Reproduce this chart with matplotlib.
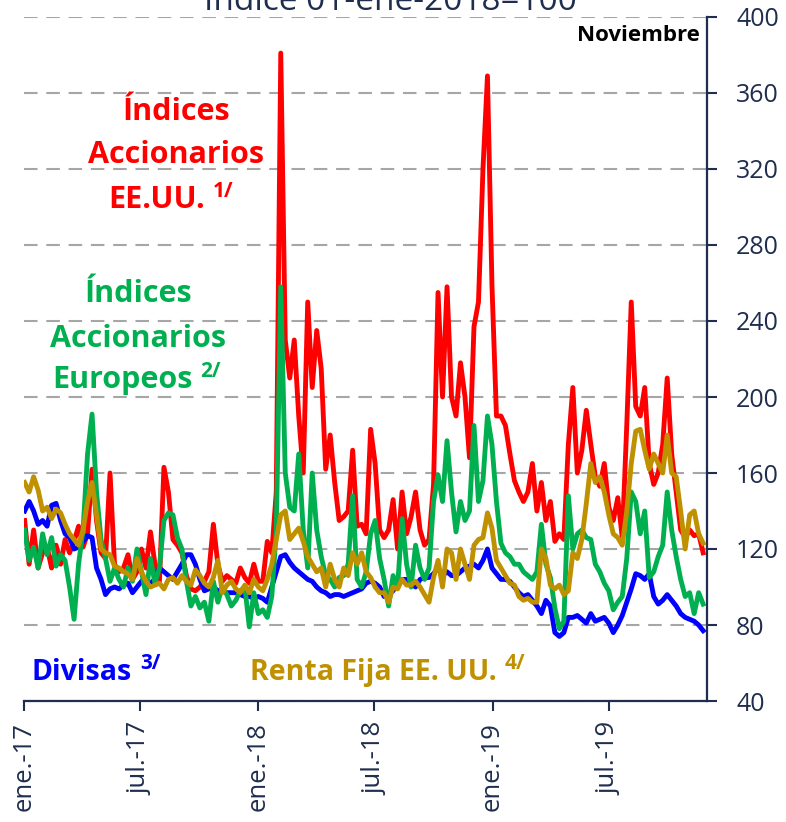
import matplotlib
matplotlib.use("Agg")
import matplotlib.pyplot as plt
import pandas as pd

plt.rcParams['font.family'] = ['Open Sans', 'DejaVu Sans']

# =========================
# DATA (weekly)
# =========================

weeks = pd.date_range('2017-01-02', periods=152, freq='7D')

red_usa = [
    135, 112, 130, 110, 118, 121, 110, 122, 112, 125,
    118, 124, 132, 121, 128, 162, 135, 118, 115, 160,
    112, 108, 110, 117, 104, 108, 120, 110, 129, 112,
    103, 163, 150, 125, 122, 118, 106, 99, 98, 100,
    103, 108, 133, 112, 103, 106, 104, 102, 110, 105,
    102, 112, 103, 103, 124, 118, 150, 381, 230, 210,
    230, 190, 160, 250, 205, 235, 215, 162, 180, 155,
    135, 137, 140, 172, 132, 133, 128, 183, 165, 130,
    126, 130, 146, 120, 150, 128, 137, 150, 130, 122,
    125, 154, 255, 200, 258, 200, 190, 218, 200, 168,
    237, 250, 320, 369, 259, 190, 190, 185, 170, 156,
    150, 145, 150, 165, 140, 155, 135, 145, 124, 128,
    125, 175, 205, 160, 172, 193, 175, 158, 153, 165,
    142, 135, 147, 126, 185, 250, 195, 190, 205, 165,
    154, 160, 175, 210, 170, 150, 130, 126, 130, 127,
    128, 118]

green_eur = [
    130, 114, 121, 110, 128, 117, 126, 111, 117, 114,
    100, 83, 112, 130, 170, 191, 150, 125, 115, 103,
    110, 104, 100, 110, 103, 120, 108, 96, 115, 102,
    110, 135, 139, 138, 126, 120, 103, 90, 95, 89,
    92, 82, 103, 92, 100, 96, 90, 93, 98, 100,
    79, 97, 86, 88, 84, 95, 130, 258, 160, 142,
    140, 170, 130, 110, 160, 130, 116, 106, 104, 100,
    105, 106, 112, 148, 104, 100, 108, 128, 135, 115,
    104, 90, 106, 100, 136, 112, 100, 122, 110, 104,
    110, 145, 159, 145, 177, 150, 129, 145, 135, 140,
    185, 145, 156, 190, 175, 145, 123, 118, 116, 112,
    112, 108, 106, 104, 108, 133, 112, 105, 89, 78,
    82, 148, 120, 128, 130, 126, 125, 112, 108, 102,
    98, 88, 92, 95, 115, 150, 145, 128, 140, 105,
    108, 116, 122, 150, 130, 116, 104, 95, 97, 86,
    97, 91]

gold_bonds = [
    155, 150, 158, 151, 140, 142, 136, 141, 139, 133,
    128, 125, 122, 130, 145, 155, 138, 120, 118, 117,
    111, 110, 108, 107, 104, 115, 108, 103, 100, 101,
    102, 99, 104, 105, 102, 106, 103, 101, 109, 106,
    102, 100, 105, 114, 97, 101, 103, 99, 97, 101,
    97, 104, 100, 98, 104, 112, 125, 138, 140, 125,
    128, 131, 124, 116, 112, 108, 110, 100, 112, 104,
    100, 110, 106, 118, 112, 118, 108, 105, 100, 97,
    97, 92, 100, 99, 104, 101, 101, 103, 100, 96,
    92, 105, 114, 100, 120, 118, 104, 120, 112, 104,
    122, 125, 126, 139, 131, 114, 110, 106, 102, 101,
    95, 93, 94, 92, 92, 120, 115, 101, 99, 101,
    96, 98, 118, 115, 125, 144, 165, 155, 158, 150,
    138, 128, 126, 122, 140, 165, 182, 183, 172, 162,
    170, 165, 160, 180, 160, 158, 140, 120, 138, 140,
    128, 123]

blue_fx = [
    140, 145, 140, 133, 135, 132, 143, 144, 135, 128,
    126, 120, 121, 124, 127, 126, 110, 104, 96, 99,
    100, 99, 101, 102, 97, 100, 103, 103, 102, 104,
    110, 108, 106, 104, 108, 112, 117, 117, 112, 104,
    98, 99, 100, 98, 98, 97, 97, 97, 96, 95,
    95, 94, 95, 94, 92, 100, 108, 116, 117, 113,
    110, 108, 106, 104, 103, 100, 98, 97, 95, 96,
    96, 95, 96, 97, 98, 99, 102, 103, 102, 100,
    95, 96, 98, 102, 104, 104, 102, 100, 104, 105,
    105, 107, 110, 106, 108, 106, 106, 108, 110, 111,
    112, 110, 114, 120, 110, 107, 104, 104, 103, 100,
    97, 95, 96, 93, 90, 86, 93, 90, 76, 74,
    76, 84, 84, 85, 83, 81, 86, 82, 83, 84,
    81, 76, 80, 85, 92, 99, 107, 106, 104, 107,
    95, 91, 93, 96, 93, 90, 86, 84, 83, 82,
    80, 77]

tick_dates = pd.to_datetime(['2017-01-01', '2017-07-01', '2018-01-01',
                             '2018-07-01', '2019-01-01', '2019-07-01'])
tick_labels = ['ene.-17', 'jul.-17', 'ene.-18', 'jul.-18', 'ene.-19', 'jul.-19']
y_ticks = list(range(40, 401, 40))

# =========================
# FIGURE
# =========================

W, H = 786, 822
navy = '#1f2d4e'
c_red, c_green, c_blue, c_gold = '#ff0000', '#00b050', '#0000ff', '#bf9000'

fig = plt.figure(figsize=(W / 100, H / 100), dpi=100)
ax = fig.add_axes([24 / W, (H - 701) / H, (707 - 24) / W, (701 - 17) / H])

ax.plot(weeks, red_usa, color=c_red, lw=3.5, zorder=3)
ax.plot(weeks, blue_fx, color=c_blue, lw=3.5, zorder=4)
ax.plot(weeks, green_eur, color=c_green, lw=3.5, zorder=5)
ax.plot(weeks, gold_bonds, color=c_gold, lw=3.5, zorder=6)

ax.set_xlim(pd.Timestamp('2017-01-01'), pd.Timestamp('2019-12-01'))
ax.set_ylim(40, 400)

ax.set_yticks(y_ticks)
ax.set_xticks(tick_dates)
ax.set_xticklabels(tick_labels, rotation=90)

ax.yaxis.grid(True, linestyle=(0, (6.5, 4.2)), color='#a6a6a6', lw=1.5)
ax.set_axisbelow(True)

for s in ['left', 'top']:
    ax.spines[s].set_visible(False)
for s in ['right', 'bottom']:
    ax.spines[s].set_color(navy)
    ax.spines[s].set_linewidth(1.6)

ax.tick_params(axis='y', left=False, right=True, labelleft=False, labelright=True,
               direction='out', length=7, width=1.5, colors=navy, labelsize=18, pad=14)
ax.tick_params(axis='x', direction='out', length=7, width=1.5, colors=navy,
               labelsize=18.5, pad=8)

# =========================
# TEXTS
# =========================

def fx(px):
    return px / W

def fy(py):
    return 1 - py / H

# title is cut at the top edge, as in the original
fig.text(fx(390), fy(10), 'Índice 01-ene-2018=100', ha='center', va='baseline',
         fontsize=24, color=navy)
fig.text(fx(700), fy(41), 'Noviembre', ha='right', va='baseline',
         fontsize=16, fontweight='bold', color='black')

lab = dict(fontsize=22, fontweight='bold', va='baseline')
fig.text(fx(176), fy(120), 'Índices', ha='center', color=c_red, **lab)
fig.text(fx(176), fy(163), 'Accionarios', ha='center', color=c_red, **lab)
t1 = fig.text(fx(108), fy(208), 'EE.UU.', ha='left', color=c_red, **lab)

fig.text(fx(138), fy(302), 'Índices', ha='center', color=c_green, **lab)
fig.text(fx(138), fy(347), 'Accionarios', ha='center', color=c_green, **lab)
t2 = fig.text(fx(52), fy(388), 'Europeos', ha='left', color=c_green, **lab)

lab2 = dict(fontsize=20.5, fontweight='bold', va='baseline')
t3 = fig.text(fx(32), fy(680), 'Divisas', ha='left', color=c_blue, **lab2)
t4 = fig.text(fx(250), fy(680), 'Renta Fija EE. UU.', ha='left', color=c_gold, **lab2)

# superscripts placed right after each label
renderer = fig.canvas.get_renderer()
for t, sup, col in [(t1, '1/', c_red), (t2, '2/', c_green),
                    (t3, '3/', c_blue), (t4, '4/', c_gold)]:
    bb = t.get_window_extent(renderer)
    base_y = t.get_position()[1]
    fig.text((bb.x1 + 8) / W, base_y + 11 / H, sup, ha='left', va='baseline',
             fontsize=15, fontweight='bold', color=col)

plt.savefig('out.png', dpi=100)
plt.close()
